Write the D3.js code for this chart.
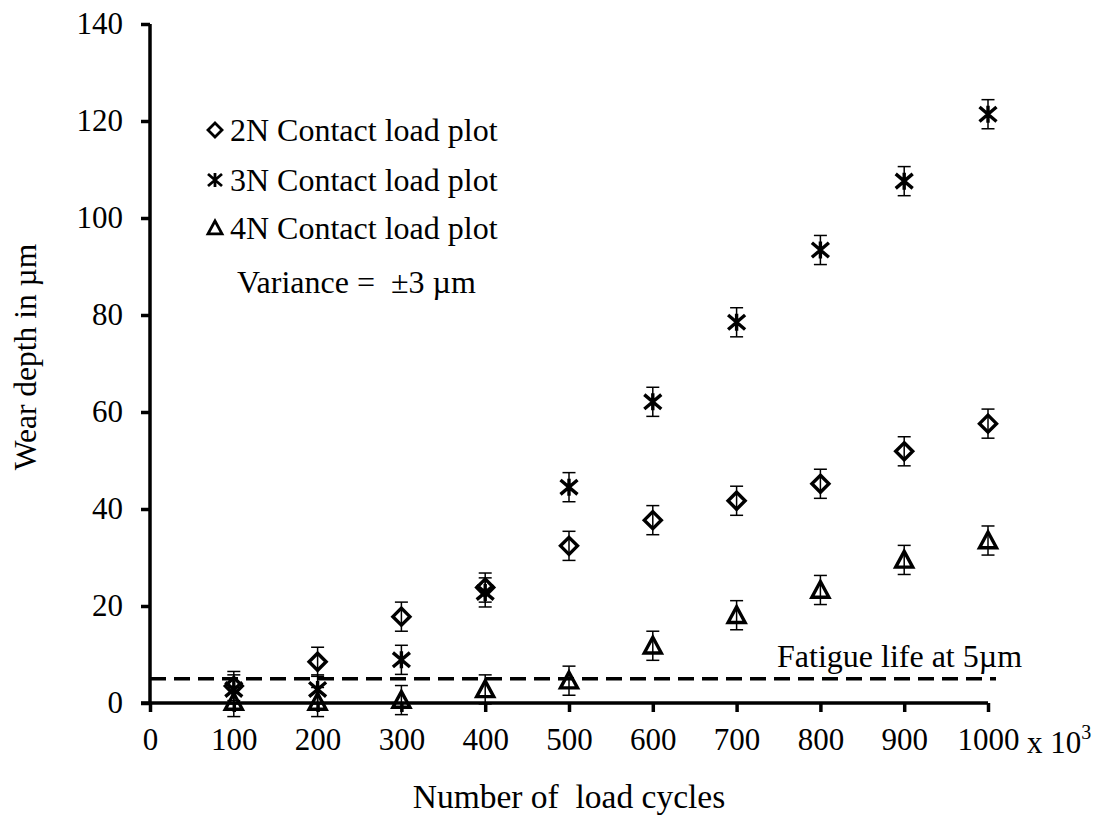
<!DOCTYPE html>
<html>
<head>
<meta charset="utf-8">
<script src="https://cdn.jsdelivr.net/npm/d3@7"></script>
<style>
  body { margin: 0; background: #fff; }
  svg text { font-family: "Liberation Serif", "Times New Roman", serif; fill: #000; white-space: pre; }
</style>
</head>
<body>
<svg id="chart" width="1106" height="819"></svg>
<script>
// Load cycles (x 10^3) and measured wear depth (µm) for each contact load
const cycles = [100, 200, 300, 400, 500, 600, 700, 800, 900, 1000];
const wear2N = [3.5, 8.5, 17.8, 23.8, 32.4, 37.7, 41.7, 45.2, 51.9, 57.6];
const wear3N = [2.8, 2.8, 8.9, 22.8, 44.5, 62.1, 78.5, 93.4, 107.6, 121.4];
const wear4N = [0.2, 0.2, 0.6, 2.8, 4.6, 11.8, 18.1, 23.3, 29.5, 33.5];
const variance = 3;          // ± error on every reading
const fatigueLimit = 5;      // µm
const xTicks = [0, 100, 200, 300, 400, 500, 600, 700, 800, 900, 1000];
const yTicks = [0, 20, 40, 60, 80, 100, 120, 140];
const seriesNames = ["2N Contact load plot", "3N Contact load plot", "4N Contact load plot"];

const FONT = "Liberation Serif";
const svg = d3.select("#chart");
const x = d3.scaleLinear().domain([0, 1000]).range([150, 988]);
const y = d3.scaleLinear().domain([0, 140]).range([703, 24]);

// Marker shapes
function diamondPath(r) {
  return `M0,${-r}L${r},0L0,${r}L${-r},0Z`;
}
function starPath(r) {
  const a = r, b = r * 0.85;
  return `M${-a},${-b}L${a},${b}M${-a},${b}L${a},${-b}M0,${-r}L0,${r}`;
}
function trianglePath(r) {
  return `M0,${-r}L${r},${r * 0.85}L${-r},${r * 0.85}Z`;
}
const shapes = [diamondPath, starPath, trianglePath];

// Fatigue-life reference line
svg.append("line")
  .attr("x1", x(0)).attr("x2", x(1000) + 8)
  .attr("y1", y(fatigueLimit)).attr("y2", y(fatigueLimit))
  .attr("stroke", "#000").attr("stroke-width", 3.5)
  .attr("stroke-dasharray", "16,8");

svg.append("text")
  .attr("x", 777).attr("y", 667)
  .attr("font-size", 32)
  .text("Fatigue life at 5µm");

// Axes
const yAxis = d3.axisLeft(y).tickValues(yTicks).tickSize(9).tickPadding(18).tickFormat(d3.format("d"));
const gy = svg.append("g").attr("transform", `translate(${x(0)},0)`).call(yAxis)
  .attr("font-family", FONT);
gy.select(".domain").attr("stroke-width", 3.5).attr("d", `M0,${y(140)}V${y(0)}`);
gy.selectAll(".tick line").attr("stroke-width", 3.5);
gy.selectAll(".tick text").attr("font-size", 31);

const xAxis = d3.axisBottom(x).tickValues(xTicks).tickSize(9).tickPadding(16).tickFormat(d3.format("d"));
const gx = svg.append("g").attr("transform", `translate(0,${y(0)})`).call(xAxis)
  .attr("font-family", FONT);
gx.select(".domain").attr("stroke-width", 3.5).attr("d", `M${x(0) - 9},0H${x(1000)}`);
gx.selectAll(".tick line").attr("stroke-width", 3.5);
gx.selectAll(".tick text").attr("font-size", 31);

// "x 10^3" multiplier after the last tick
const mult = svg.append("text")
  .attr("x", 1027).attr("y", 753)
  .attr("font-size", 31);
mult.append("tspan").text("x 10");
mult.append("tspan").attr("font-size", 20).attr("dy", -14).text("3");

// Axis titles
svg.append("text")
  .attr("x", 569).attr("y", 808)
  .attr("font-size", 33.5)
  .attr("text-anchor", "middle")
  .text("Number of  load cycles");

svg.append("text")
  .attr("transform", "translate(36,357) rotate(-90)")
  .attr("font-size", 31.5)
  .attr("text-anchor", "middle")
  .text("Wear depth in µm");

// Data series with ± error bars
const allSeries = [wear2N, wear3N, wear4N];
allSeries.forEach((vals, si) => {
  const g = svg.append("g");
  const pts = cycles.map((c, i) => ({ c, v: vals[i] }));
  const eb = g.selectAll(".eb").data(pts).enter().append("g")
    .attr("stroke", "#000").attr("stroke-width", 1.5);
  eb.append("line")
    .attr("x1", d => x(d.c)).attr("x2", d => x(d.c))
    .attr("y1", d => y(d.v + variance)).attr("y2", d => y(d.v - variance));
  eb.append("line")
    .attr("x1", d => x(d.c) - 6.5).attr("x2", d => x(d.c) + 6.5)
    .attr("y1", d => y(d.v + variance)).attr("y2", d => y(d.v + variance));
  eb.append("line")
    .attr("x1", d => x(d.c) - 6.5).attr("x2", d => x(d.c) + 6.5)
    .attr("y1", d => y(d.v - variance)).attr("y2", d => y(d.v - variance));
  g.selectAll(".mk").data(pts).enter().append("path")
    .attr("transform", d => `translate(${x(d.c)},${y(d.v)})`)
    .attr("d", shapes[si](8.5))
    .attr("fill", "none").attr("stroke", "#000").attr("stroke-width", 3.4);
});

// Legend
const legendY = [130, 180, 228];
const leg = svg.append("g");
seriesNames.forEach((name, i) => {
  leg.append("path")
    .attr("transform", `translate(215,${legendY[i]})`)
    .attr("d", shapes[i](7))
    .attr("fill", "none").attr("stroke", "#000").attr("stroke-width", 2.8);
  leg.append("text")
    .attr("x", 230).attr("y", legendY[i] + 11)
    .attr("font-size", 32)
    .text(name);
});
leg.append("text")
  .attr("x", 237).attr("y", 293)
  .attr("font-size", 32)
  .text("Variance =  ±3 µm");
</script>
</body>
</html>
